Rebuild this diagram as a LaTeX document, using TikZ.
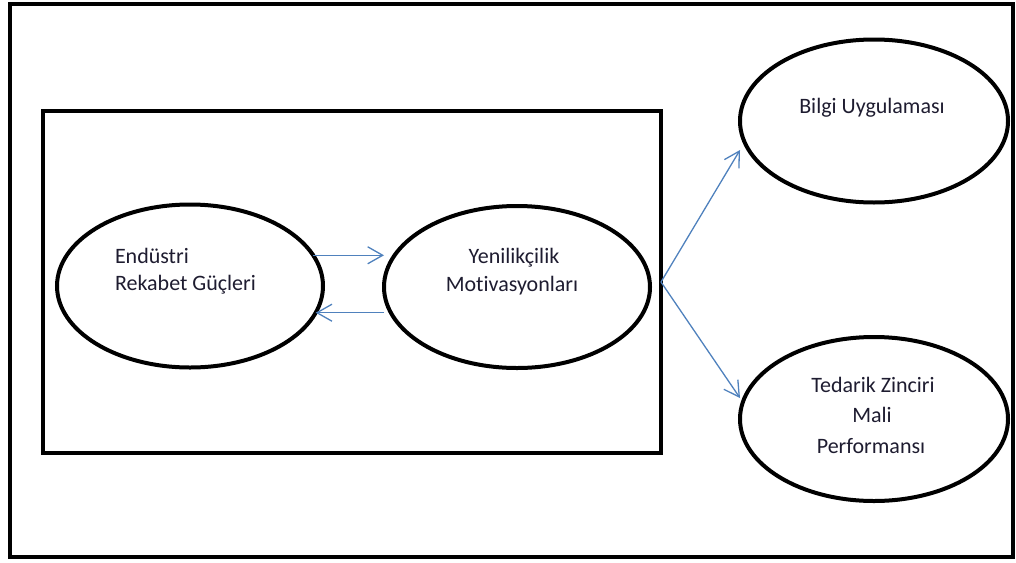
\documentclass[tikz,border=0pt]{standalone}
\usepackage{fontspec}
\setmainfont{Carlito}[Ligatures=CommonOff]
\usetikzlibrary{shapes.geometric,arrows.meta}
\definecolor{arrowblue}{RGB}{79,129,189}
\definecolor{txt}{RGB}{30,28,48}
\tikzset{
  oval/.style={draw, ellipse, line width=4pt, inner sep=0pt, outer sep=0pt},
  lbl/.style={inner sep=0pt, outer sep=0pt, text=txt, font=\fontsize{22}{26}\selectfont},
  conn/.style={draw=arrowblue, line width=1.3pt, -{Straight Barb[length=15pt,width=17pt,line width=1.3pt]}},
  frame/.style={draw, line width=4.5pt, inner sep=0pt, outer sep=0pt}
}
\begin{document}
\begin{tikzpicture}[x=1pt,y=-1pt]
\useasboundingbox (0,0) rectangle (1016,562);
\node[frame, minimum width=1003pt, minimum height=553pt] (outer) at (511.5,280.5) {};
\node[frame, minimum width=618pt, minimum height=342pt] (box) at (352,282) {};
\node[oval, minimum width=266pt, minimum height=163pt] (left) at (190,286) {};
\node[oval, minimum width=266pt, minimum height=162pt] (mid) at (517,287) {};
\node[oval, minimum width=268pt, minimum height=163pt] (top) at (874,121) {};
\node[oval, minimum width=268pt, minimum height=164pt] (bot) at (874,419) {};
\node[lbl, anchor=base west] (t1) at (115,263) {Endüstri};
\node[lbl, anchor=base west] (t2) at (115,290) {Rekabet Güçleri};
\node[lbl, anchor=base] (t3) at (514,263) {Yenilikçilik};
\node[lbl, anchor=base] (t4) at (512,291) {Motivasyonları};
\node[lbl, anchor=base] (t5) at (872,113) {Bilgi Uygulaması};
\node[lbl, anchor=base] (t6) at (873,392) {Tedarik Zinciri};
\node[lbl, anchor=base] (t7) at (872,422) {Mali};
\node[lbl, anchor=base] (t8) at (871,453) {Performansı};
\draw[conn] (left.14) -- (left.14 -| mid.west);
\draw[conn] (left.-12 -| mid.west) -- (left.-12);
\draw[conn] (box.east) -- ([yshift=-29pt]top.west);
\draw[conn] (box.east) -- ([yshift=21pt]bot.west);
\end{tikzpicture}
\end{document}
